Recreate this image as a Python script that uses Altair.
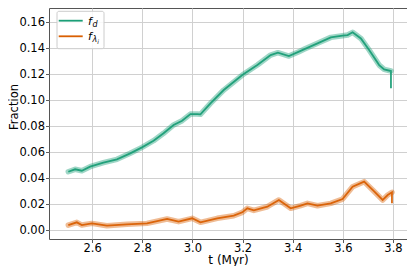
import altair as alt
import pandas as pd

# green series f_d
t_d = [2.505, 2.532, 2.559, 2.592, 2.645, 2.699, 2.752, 2.799, 2.845, 2.885, 2.925, 2.959,
       2.992, 3.019, 3.032, 3.072, 3.125, 3.199, 3.259, 3.312, 3.341, 3.385, 3.425, 3.445,
       3.499, 3.552, 3.599, 3.619, 3.639, 3.672, 3.705, 3.745, 3.765, 3.792]
v_d = [0.0448, 0.0467, 0.0456, 0.0487, 0.0518, 0.0544, 0.0590, 0.0636, 0.0687, 0.0744, 0.0808, 0.0841,
       0.0892, 0.0892, 0.0890, 0.0974, 0.1077, 0.1192, 0.1269, 0.1346, 0.1364, 0.1338, 0.1372, 0.1390,
       0.1436, 0.1482, 0.1495, 0.1500, 0.1521, 0.1474, 0.1385, 0.1269, 0.1236, 0.1223]
end_d = 0.109

# orange series f_lambda_i
t_l = [2.505, 2.539, 2.559, 2.599, 2.659, 2.739, 2.819, 2.899, 2.945, 2.999, 3.032, 3.099,
       3.165, 3.199, 3.219, 3.245, 3.299, 3.345, 3.392, 3.432, 3.459, 3.499, 3.552, 3.599,
       3.639, 3.685, 3.719, 3.759, 3.779, 3.796]
v_l = [0.0038, 0.0059, 0.0038, 0.0051, 0.0033, 0.0044, 0.0051, 0.0085, 0.0064, 0.0090, 0.0059, 0.0090,
       0.0110, 0.0136, 0.0167, 0.0151, 0.0179, 0.0231, 0.0167, 0.0187, 0.0205, 0.0187, 0.0205, 0.0238,
       0.0333, 0.0372, 0.0308, 0.0231, 0.0269, 0.0290]
end_l = 0.0205

x_ticks = [2.6, 2.8, 3.0, 3.2, 3.4, 3.6, 3.8]
y_ticks = [0.0, 0.02, 0.04, 0.06, 0.08, 0.10, 0.12, 0.14, 0.16]

GREEN = "#1b9e77"
ORANGE = "#d95f02"

band = pd.concat([
    pd.DataFrame({"t": t_d, "v": v_d, "s": "d", "i": range(len(t_d))}),
    pd.DataFrame({"t": t_l, "v": v_l, "s": "l", "i": range(len(t_l))}),
])
thin = pd.concat([
    band,
    pd.DataFrame({"t": [t_d[-1], t_l[-1]], "v": [end_d, end_l], "s": ["d", "l"],
                  "i": [len(t_d), len(t_l)]}),
])

xs = alt.Scale(domain=[2.428, 3.856], nice=False, zero=False)
ys = alt.Scale(domain=[-0.00692, 0.1708], nice=False, zero=False)
cs = alt.Scale(domain=["d", "l"], range=[GREEN, ORANGE])

X = alt.X("t:Q", scale=xs, title="t (Myr)",
          axis=alt.Axis(values=x_ticks, tickCount=len(x_ticks), format=".1f", labelPadding=0,
                        labelOverlap=False, titleFontSize=12, titleY=24.5,
                        titleBaseline="alphabetic"))
Y = alt.Y("v:Q", scale=ys, title="Fraction",
          axis=alt.Axis(values=y_ticks, tickCount=len(y_ticks), format=".2f", labelPadding=1,
                        labelOverlap=False, titleFontSize=11.5, titleX=-30, titleY=98.5))

band_layer = alt.Chart(band).mark_line(strokeWidth=5.5, opacity=0.42, strokeCap="round",
                                       strokeJoin="round").encode(
    x=X, y=Y, color=alt.Color("s:N", scale=cs, legend=None), detail="s:N", order="i:Q")
thin_layer = alt.Chart(thin).mark_line(strokeWidth=1.8, opacity=0.95).encode(
    x="t:Q", y="v:Q", color=alt.Color("s:N", scale=cs, legend=None), detail="s:N", order="i:Q")

one = pd.DataFrame({"a": [0]})
box = alt.Chart(one).mark_rect(fill="white", fillOpacity=0.85, stroke="#cccccc",
                               strokeWidth=1, cornerRadius=2).encode(
    x=alt.value(8), x2=alt.value(55), y=alt.value(3.3), y2=alt.value(40.7))
leg_g = alt.Chart(one).mark_rule(color=GREEN, strokeWidth=1.8).encode(
    x=alt.value(9.7), x2=alt.value(33.7), y=alt.value(12.7))
leg_o = alt.Chart(one).mark_rule(color=ORANGE, strokeWidth=1.8).encode(
    x=alt.value(9.7), x2=alt.value(33.7), y=alt.value(28.3))

def txt(s, x, y, size):
    return alt.Chart(one).mark_text(text=s, font="DejaVu Sans", fontStyle="italic",
                                    fontSize=size, align="left", baseline="alphabetic",
                                    color="black").encode(x=alt.value(x), y=alt.value(y))

legend_texts = [
    txt("f", 39, 16.5, 11), txt("d", 43.5, 18.5, 8),
    txt("f", 39, 32, 11), txt("λ", 43.5, 34, 8), txt("i", 48.3, 35.5, 6),
]

chart = alt.layer(band_layer, thin_layer, box, leg_g, leg_o, *legend_texts).properties(
    width=358, height=231,
    autosize=alt.AutoSizeParams(type="none"),
    padding={"left": 41, "top": 0, "right": 0, "bottom": 27},
).configure_view(stroke="#555555", strokeWidth=1).configure_axis(
    domain=False, grid=True, gridColor="#d0d0d0", gridWidth=1,
    tickColor="#333333", tickSize=3.5, tickWidth=0.8,
    labelFont="DejaVu Sans", labelFontSize=11.5, labelColor="black",
    titleFont="DejaVu Sans", titleFontWeight="normal", titleColor="black",
)

chart.save("out.html", embed_options={"renderer": "svg", "actions": False})
